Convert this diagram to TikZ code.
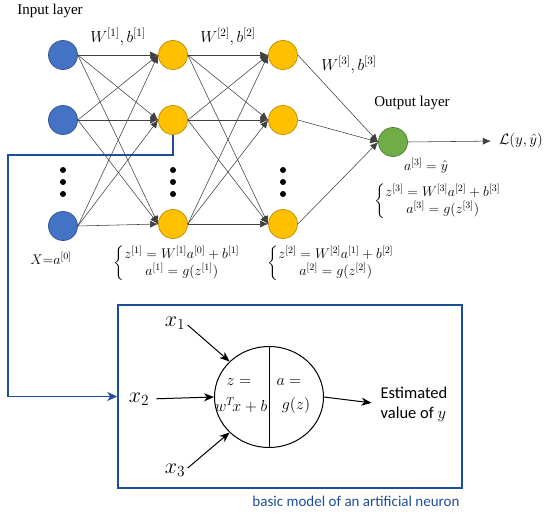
\RequirePackage{fix-cm}
\documentclass[tikz,border=0pt]{standalone}
\usepackage{amsmath}
\usepackage{fontspec}
\setmainfont{Liberation Serif}
\newfontfamily\calfont{Carlito}
\usetikzlibrary{arrows.meta,shapes.geometric}
\definecolor{nblue}{HTML}{4472C4}
\definecolor{nblueb}{HTML}{2F528F}
\definecolor{nyel}{HTML}{FFC000}
\definecolor{nyelb}{HTML}{C09000}
\definecolor{ngreen}{HTML}{70AD47}
\definecolor{ngreenb}{HTML}{507E32}
\definecolor{boxblue}{HTML}{1F4E99}
\tikzset{
  neuron/.style={circle, minimum size=29pt, inner sep=0pt, line width=0.7pt},
  inn/.style={neuron, fill=nblue, draw=nblueb},
  hid/.style={neuron, fill=nyel, draw=nyelb},
  outn/.style={neuron, fill=ngreen, draw=ngreenb},
  conn/.style={draw=black!75, line width=0.55pt, -{Latex[length=8pt,width=7pt]}},
  dotn/.style={circle, fill=black, inner sep=0pt, minimum size=6pt},
  lbl/.style={font=\fontsize{15}{17}\selectfont, inner sep=0pt},
  wl/.style={font=\fontsize{16}{18}\selectfont, inner sep=0pt},
  eqn/.style={font=\fontsize{14}{16}\selectfont, inner sep=0pt},
  nt/.style={font=\fontsize{16}{18}\selectfont, inner sep=0pt},
  big/.style={font=\fontsize{22}{24}\selectfont, inner sep=0pt},
  arr/.style={draw=black, line width=1pt, -{Stealth[length=10pt,width=8pt,inset=3pt]}},
  feed/.style={draw=boxblue, line width=1.6pt, -{Stealth[length=10pt,width=9pt,inset=3pt]}},
}
\begin{document}
\begin{tikzpicture}[x=1pt,y=-1pt]
\useasboundingbox (0,0) rectangle (550,514);
% layers
\node[inn] (i1) at (63,55) {};
\node[inn] (i2) at (63,120) {};
\node[inn] (i3) at (63,226) {};
\node[hid] (a1) at (173,55) {};
\node[hid] (a2) at (173,120) {};
\node[hid] (a3) at (173,224) {};
\node[hid] (b1) at (283,55) {};
\node[hid] (b2) at (283,120) {};
\node[hid] (b3) at (283,224) {};
\node[outn] (o) at (393,142) {};
\foreach \x/\n in {63/p,173/q,283/r}{
  \node[dotn] (\n1) at (\x,170) {};
  \node[dotn] (\n2) at (\x,182) {};
  \node[dotn] (\n3) at (\x,194) {};
}
\foreach \i in {1,2,3}{
  \foreach \j in {1,2,3}{
    \draw[conn] (i\i.east) -- (a\j.west);
    \draw[conn] (a\i.east) -- (b\j.west);
  }
  \draw[conn] (b\i.east) -- (o.west);
}
\node[lbl] (loss) at (521,141) {$\mathcal{L}(y,\hat{y})$};
\draw[conn, shorten >=8pt] (o.east) -- (loss.west);
% labels
\node[lbl] (tin) at (50,11) {Input layer};
\node[lbl] (tout) at (412,103) {Output layer};
\node[wl] (w1) at (118,37) {$W^{[1]}, b^{[1]}$};
\node[wl] (w2) at (228,37) {$W^{[2]}, b^{[2]}$};
\node[wl] (w3) at (349,65) {$W^{[3]}, b^{[3]}$};
\node[eqn] (x0) at (51,258) {$X{=}a^{[0]}$};
\node[eqn] (e1) at (177,263) {$\left\{\begin{array}{@{}c@{}} z^{[1]} = W^{[1]}a^{[0]}+b^{[1]}\\ a^{[1]} = g(z^{[1]})\end{array}\right.$};
\node[eqn] (e2) at (331,263) {$\left\{\begin{array}{@{}c@{}} z^{[2]} = W^{[2]}a^{[1]}+b^{[2]}\\ a^{[2]} = g(z^{[2]})\end{array}\right.$};
\node[eqn] (yh) at (426,166) {$a^{[3]} = \hat{y}$};
\node[eqn] (e3) at (438,201) {$\left\{\begin{array}{@{}c@{}} z^{[3]} = W^{[3]}a^{[2]}+b^{[3]}\\ a^{[3]} = g(z^{[3]})\end{array}\right.$};
% box
\node[draw=boxblue, line width=1.5pt, minimum width=344pt, minimum height=183pt, inner sep=0pt] (box) at (290,396.5) {};
\node[font=\calfont\fontsize{15}{18}\selectfont, text=boxblue, inner sep=0pt] (cap) at (356,501) {basic model of an artificial neuron};
\coordinate (c1) at (8,155);
\draw[feed] (a2.south) |- (c1) |- (box.west);
% neuron
\node[ellipse, draw, line width=1pt, minimum width=109pt, minimum height=101pt, inner sep=0pt] (nr) at (269,397) {};
\draw[line width=1pt] (nr.north) -- (nr.south);
\node[nt] (tz) at (239,382) {$z=$};
\node[nt] (tw) at (241,405) {$w^{T}\!x+b$};
\node[nt] (ta) at (289,382) {$a=$};
\node[nt] (tg) at (296,405) {$g(z)$};
\node[big] (x1) at (175,323) {$x_1$};
\node[big] (x2) at (139,399) {$x_2$};
\node[big] (x3) at (175,470) {$x_3$};
\draw[arr, shorten <=3pt] (x1.east) -- (nr.138);
\draw[arr, shorten <=7pt] (x2.east) -- (nr.west);
\draw[arr, shorten <=3pt] (x3.east) -- (nr.222);
\node[font=\calfont\fontsize{16.5}{20}\selectfont, align=left, inner sep=0pt] (est) at (414,404) {Estimated\\value of $y$};
\draw[arr, shorten >=9pt] (nr.east) -- (est.west);
\end{tikzpicture}
\end{document}
